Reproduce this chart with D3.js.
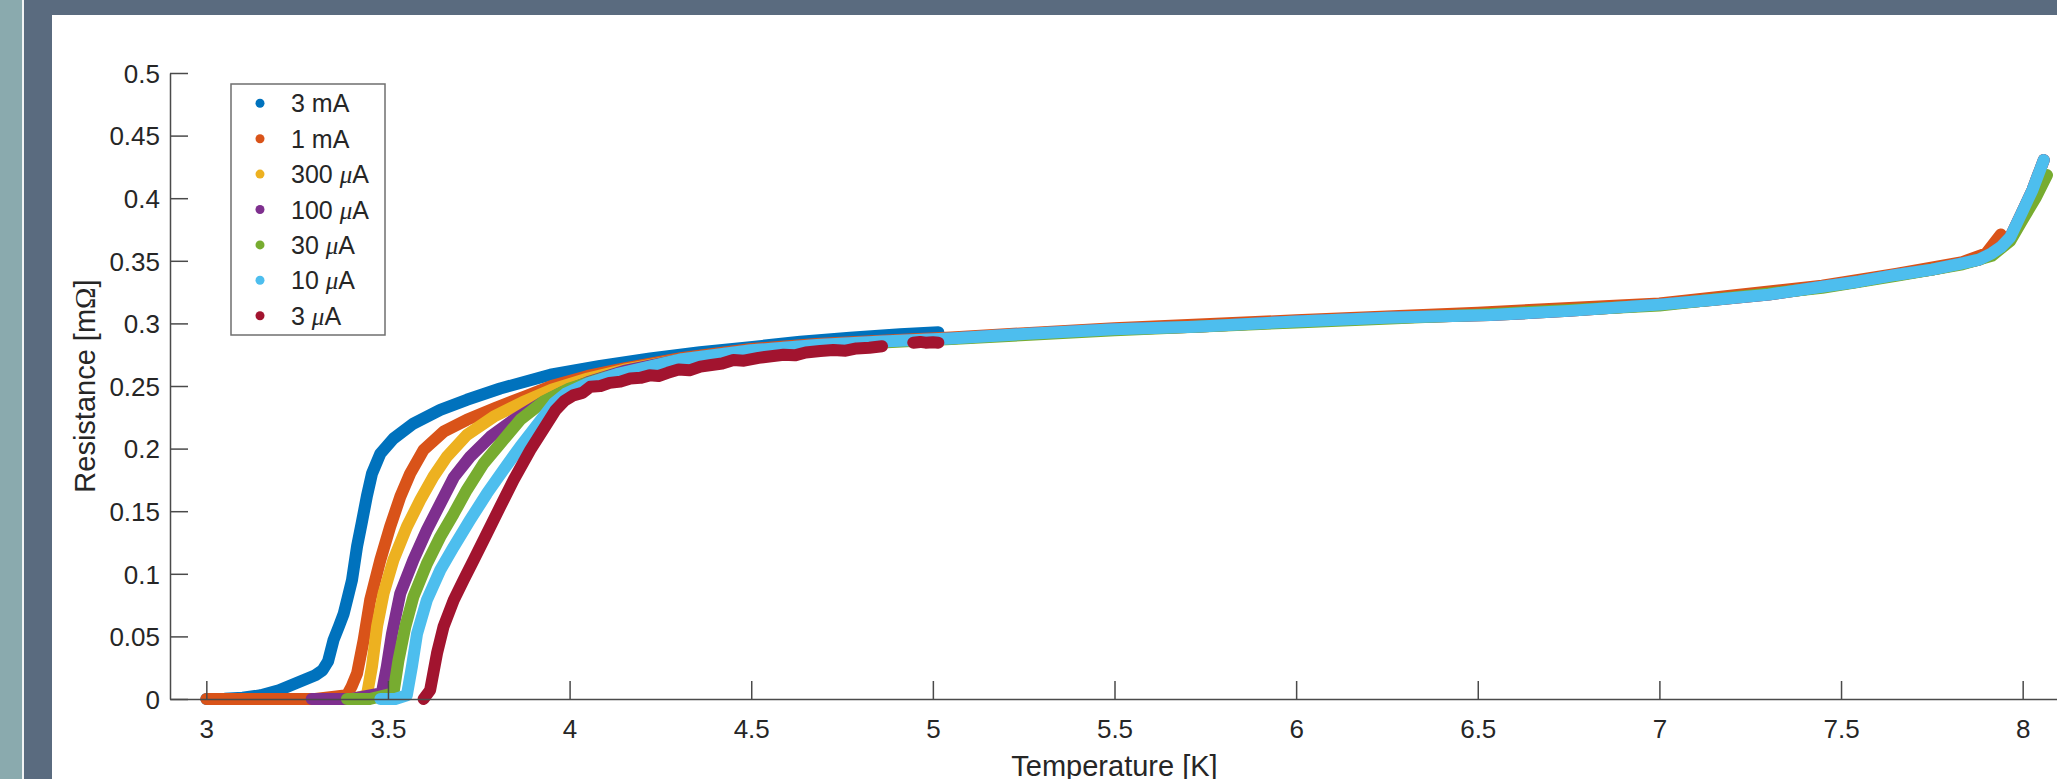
<!DOCTYPE html>
<html><head><meta charset="utf-8">
<script src="https://cdn.jsdelivr.net/npm/d3@7"></script>
<style>
html,body{margin:0;padding:0;background:#fff;}
svg{display:block;}
text{font-family:"Liberation Sans",Arial,sans-serif;fill:#262626;}
</style></head>
<body>
<svg id="chart" width="2057" height="779"></svg>
<script>
// ---- data (Temperature [K], Resistance [mOhm]) ----
const seriesNames = ["3 mA", "1 mA", "300 \u03bcA", "100 \u03bcA", "30 \u03bcA", "10 \u03bcA", "3 \u03bcA"];
const seriesColors = ["#0072BD", "#D95319", "#EDB120", "#7E2F8E", "#77AC30", "#4DBEEE", "#A2142F"];
const xTicks = [3, 3.5, 4, 4.5, 5, 5.5, 6, 6.5, 7, 7.5, 8];
const yTicks = [0, 0.05, 0.1, 0.15, 0.2, 0.25, 0.3, 0.35, 0.4, 0.45, 0.5];
const xLimits = [2.9, 8.1];
const yLimits = [0, 0.5];

const normalTail = [[5.047,0.288],[5.25,0.2915],[5.5,0.2953],[5.722,0.2974],[6.0,0.3016],[6.25,0.3045],[6.534,0.3067],[6.75,0.310],[7.0,0.315],[7.144,0.3187],[7.30,0.323],[7.448,0.3293],[7.55,0.3335],[7.651,0.3387],[7.75,0.343],[7.834,0.348],[7.88,0.351],[7.915,0.356],[7.94,0.361],[7.966,0.369],[7.997,0.388],[8.027,0.4066],[8.058,0.4305]];
const bundleMid = [[4.31,0.2715],[4.50,0.2785],[4.68,0.2828],[4.86,0.2856]];

const data3mA = [[3.00,0],[3.05,0.0003],[3.10,0.001],[3.15,0.003],[3.20,0.007],[3.25,0.013],[3.30,0.019],[3.32,0.023],[3.335,0.030],[3.35,0.047],[3.365,0.058],[3.378,0.068],[3.39,0.082],[3.401,0.095],[3.415,0.122],[3.428,0.141],[3.442,0.162],[3.456,0.180],[3.479,0.196],[3.515,0.208],[3.57,0.220],[3.644,0.231],[3.717,0.239],[3.809,0.248],[3.947,0.259],[4.084,0.266],[4.222,0.272],[4.359,0.277],[4.497,0.281],[4.635,0.2854],[4.772,0.2886],[4.910,0.2913],[5.015,0.2929]];

const data1mA = [[3.00,0],[3.10,0],[3.20,0],[3.30,0],[3.387,0.003],[3.40,0.010],[3.415,0.0205],[3.433,0.047],[3.451,0.079],[3.479,0.111],[3.506,0.1376],[3.534,0.1616],[3.561,0.180],[3.598,0.199],[3.653,0.2135],[3.717,0.223],[3.80,0.233],[3.88,0.242],[3.95,0.250],[4.05,0.258],[4.15,0.264],[4.31,0.2725],[4.50,0.2795],[4.68,0.2835],[4.86,0.2862],[5.05,0.2888],[5.5,0.2962],[6.0,0.3025],[6.5,0.3085],[7.0,0.3160],[7.448,0.3302],[7.651,0.3395],[7.834,0.349],[7.90,0.356],[7.94,0.371]];

const data300uA = [[3.33,0],[3.40,0],[3.442,0.003],[3.456,0.026],[3.470,0.058],[3.488,0.0844],[3.515,0.111],[3.552,0.1376],[3.589,0.159],[3.625,0.1776],[3.662,0.1935],[3.717,0.2109],[3.791,0.2255],[3.87,0.237],[3.95,0.247],[4.05,0.256],[4.15,0.263]].concat(bundleMid, normalTail);

const data100uA = [[3.29,0],[3.40,0],[3.483,0.0046],[3.497,0.026],[3.511,0.052],[3.534,0.0844],[3.570,0.111],[3.607,0.135],[3.644,0.156],[3.681,0.177],[3.726,0.1935],[3.782,0.2095],[3.846,0.223],[3.92,0.236],[3.98,0.245],[4.05,0.253],[4.15,0.262]].concat(bundleMid, normalTail);

const data30uA = [[3.387,0],[3.45,0],[3.515,0.0046],[3.529,0.031],[3.548,0.058],[3.570,0.0817],[3.607,0.108],[3.644,0.1296],[3.681,0.148],[3.717,0.167],[3.763,0.188],[3.809,0.204],[3.864,0.223],[3.93,0.238],[4.0,0.248],[4.1,0.257],[4.2,0.264],[4.31,0.2712],[4.5,0.278],[4.68,0.2818],[4.86,0.2848],[5.05,0.2875],[5.5,0.2945],[6.0,0.3008],[6.5,0.307],[7.0,0.3143],[7.448,0.3285],[7.651,0.338],[7.834,0.3472],[7.915,0.354],[7.966,0.366],[8.0,0.383],[8.035,0.400],[8.067,0.4185]];

const data10uA = [[3.479,0],[3.52,0],[3.552,0.003],[3.566,0.026],[3.580,0.052],[3.607,0.079],[3.644,0.103],[3.681,0.1216],[3.726,0.143],[3.772,0.164],[3.818,0.183],[3.864,0.2015],[3.919,0.222],[3.956,0.236],[3.99,0.244],[4.05,0.252],[4.13,0.2595],[4.22,0.2655]].concat(bundleMid, normalTail);

const data3uA = [[3.598,0],[3.616,0.007],[3.635,0.0365],[3.653,0.0578],[3.681,0.079],[3.708,0.095],[3.736,0.111],[3.772,0.132],[3.809,0.1536],[3.846,0.175],[3.892,0.199],[3.938,0.220],[3.962,0.231],[3.985,0.238],[4.01,0.2425],[4.035,0.2445],[4.057,0.2494],[4.085,0.2500],[4.11,0.2525],[4.14,0.2535],[4.167,0.2560],[4.195,0.2565],[4.22,0.2585],[4.245,0.2580],[4.27,0.2605],[4.30,0.2632],[4.33,0.2625],[4.36,0.2655],[4.39,0.2668],[4.42,0.2680],[4.451,0.2708],[4.48,0.2702],[4.52,0.2725],[4.555,0.2738],[4.589,0.2750],[4.62,0.2745],[4.65,0.2768],[4.69,0.2780],[4.726,0.2788],[4.76,0.2782],[4.79,0.2800],[4.825,0.2806],[4.86,0.2818],null,[4.946,0.2846],[4.965,0.2852],[4.98,0.2846],[5.0,0.2850],[5.015,0.2846]];

const allSeries = [data3mA, data1mA, data300uA, data100uA, data30uA, data10uA, data3uA];

// ---- layout ----
const svg = d3.select("#chart");
const W = 2057, H = 779;

// frame background
svg.append("rect").attr("x",0).attr("y",0).attr("width",W).attr("height",H).attr("fill","#5a6b7f");
svg.append("rect").attr("x",0).attr("y",0).attr("width",22).attr("height",H).attr("fill","#8aaaae");
svg.append("rect").attr("x",22).attr("y",0).attr("width",2).attr("height",H).attr("fill","#f2f4f4");
svg.append("rect").attr("x",52).attr("y",15).attr("width",W-52).attr("height",H-15).attr("fill","#ffffff");

const x = d3.scaleLinear().domain(xLimits).range([170, 2059]);
const y = d3.scaleLinear().domain(yLimits).range([699, 73]);

const line = d3.line()
  .defined(d => d !== null)
  .x(d => x(d[0]))
  .y(d => y(d[1]));

const gData = svg.append("g");
allSeries.forEach((s, i) => {
  gData.append("path")
    .attr("d", line(s))
    .attr("fill", "none")
    .attr("stroke", seriesColors[i])
    .attr("stroke-width", 12)
    .attr("stroke-linecap", "round")
    .attr("stroke-linejoin", "round");
});

// axes
const fmt = d => String(d);
const yAxis = d3.axisLeft(y).tickValues(yTicks).tickFormat(fmt).tickSizeInner(-18).tickSizeOuter(0).tickPadding(10);
const xAxis = d3.axisBottom(x).tickValues(xTicks).tickFormat(fmt).tickSizeInner(-18).tickSizeOuter(0).tickPadding(21);

const gy = svg.append("g").attr("transform", "translate(170,0)").call(yAxis);
const gx = svg.append("g").attr("transform", "translate(0,699)").call(xAxis);
[gx, gy].forEach(g => {
  g.select(".domain").attr("stroke", "#4a4a4a").attr("stroke-width", 1.5);
  g.selectAll(".tick line").attr("stroke", "#4a4a4a").attr("stroke-width", 1.5);
  g.selectAll(".tick text").attr("font-size", 26).attr("fill", "#262626")
    .attr("font-family", "'Liberation Sans', Arial, sans-serif");
});
gy.selectAll(".tick text").attr("dy", "0.36em");

// axis labels
svg.append("text").attr("x", x(5.5)).attr("y", 776).attr("text-anchor", "middle")
  .attr("font-size", 29).text("Temperature [K]");
const yl = svg.append("text").attr("transform", "translate(95," + (y(0.25)) + ") rotate(-90)")
  .attr("text-anchor", "middle").attr("font-size", 29);
yl.append("tspan").text("Resistance [m");
yl.append("tspan").attr("font-family", "'Liberation Serif', 'DejaVu Serif', serif").text("\u03a9");
yl.append("tspan").text("]");

// legend
const lg = svg.append("g");
lg.append("rect").attr("x", 231).attr("y", 84).attr("width", 154).attr("height", 251)
  .attr("fill", "#fff").attr("stroke", "#6f6f6f").attr("stroke-width", 1.5);
seriesNames.forEach((name, i) => {
  const cy = 103.3 + i * 35.4;
  lg.append("circle").attr("cx", 260).attr("cy", cy).attr("r", 4.5).attr("fill", seriesColors[i]);
  const t = lg.append("text").attr("x", 291).attr("y", cy + 9).attr("font-size", 25);
  const parts = name.split("\u03bc");
  t.append("tspan").text(parts[0]);
  if (parts.length > 1) {
    t.append("tspan").attr("font-family", "'Liberation Serif', 'DejaVu Serif', serif").attr("font-style", "italic").text("\u03bc");
    t.append("tspan").text(parts[1]);
  }
});
</script>
</body></html>
